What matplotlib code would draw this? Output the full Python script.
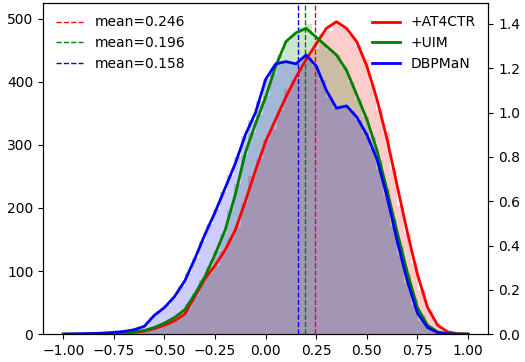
import numpy as np
import matplotlib
matplotlib.use("Agg")
import matplotlib.pyplot as plt

# histogram bins (width 0.035) and counts per model
bin_edges = np.round(np.arange(-0.68, 0.94, 0.035), 4)

counts_at4ctr = [2, 4, 5, 8, 12, 16, 21, 28, 41, 61, 86, 97, 108, 130, 151, 170,
                 208, 250, 277, 307, 325, 356, 388, 403, 422, 442, 452, 476, 480, 497,
                 485, 474, 457, 436, 397, 356, 320, 260, 203, 158, 112, 70, 38, 18, 8, 3]
counts_uim = [3, 5, 6, 10, 14, 20, 26, 34, 47, 65, 84, 107, 132, 159, 197, 238,
              284, 318, 348, 378, 412, 442, 465, 475, 487, 492, 471, 461, 451, 442,
              424, 400, 373, 346, 313, 276, 232, 183, 140, 95, 56, 30, 13, 5, 2, 0]
counts_dbpman = [6, 9, 15, 27, 36, 46, 59, 76, 97, 121, 148, 174, 199, 226, 253, 281,
                 314, 339, 369, 405, 422, 430, 431, 429, 436, 438, 425, 403, 376, 358,
                 361, 353, 340, 320, 295, 262, 221, 172, 125, 81, 46, 21, 9, 3, 1, 0]

# density curves, read at x = -1.00, -0.95, ..., 1.00
kde_x = np.round(np.arange(-1.0, 1.001, 0.05), 2)
kde_at4ctr = [0, 0, 0, 0.001, 0.002, 0.003, 0.005, 0.008, 0.013, 0.025, 0.04, 0.06, 0.09,
              0.17, 0.25, 0.31, 0.38, 0.47, 0.60, 0.74, 0.87, 0.97, 1.07, 1.16, 1.24, 1.31,
              1.38, 1.41, 1.38, 1.32, 1.21, 1.06, 0.88, 0.67, 0.46, 0.27, 0.12, 0.04, 0.01,
              0.002, 0]
kde_uim = [0, 0, 0, 0.001, 0.002, 0.004, 0.006, 0.01, 0.016, 0.03, 0.05, 0.075, 0.11,
           0.18, 0.26, 0.36, 0.47, 0.63, 0.82, 0.95, 1.07, 1.21, 1.32, 1.36, 1.38, 1.34,
           1.30, 1.26, 1.19, 1.08, 0.97, 0.83, 0.65, 0.46, 0.28, 0.12, 0.04, 0.01, 0.002,
           0, 0]
kde_dbpman = [0, 0.001, 0.002, 0.003, 0.005, 0.008, 0.012, 0.02, 0.035, 0.085, 0.12, 0.17,
              0.24, 0.34, 0.45, 0.55, 0.66, 0.77, 0.90, 1.00, 1.15, 1.22, 1.23, 1.22, 1.26,
              1.21, 1.10, 1.02, 1.03, 0.98, 0.90, 0.79, 0.62, 0.42, 0.24, 0.095, 0.03, 0.007,
              0.001, 0, 0]

names = ["+AT4CTR", "+UIM", "DBPMaN"]
means = [0.246, 0.196, 0.158]
colors = ["red", "green", "blue"]

fig = plt.figure(figsize=(5.25, 3.62), dpi=100)
ax1 = fig.add_axes([0.082, 0.077, 0.848, 0.915])
ax2 = ax1.twinx()

centers = (bin_edges[:-1] + bin_edges[1:]) / 2
for cnt, c in zip([counts_at4ctr, counts_uim, counts_dbpman], colors):
    ax1.hist(centers, bins=bin_edges, weights=cnt, color=c, alpha=0.2)

for m, c in zip(means, colors):
    ax1.axvline(m, color=c, linestyle="--", linewidth=1, label="mean=%.3f" % m)

for k, c, n in zip([kde_at4ctr, kde_uim, kde_dbpman], colors, names):
    ax2.plot(kde_x, k, color=c, linewidth=2, label=n)

ax1.set_xlim(-1.1, 1.1)
ax1.set_ylim(0, 525)
ax2.set_ylim(0, 1.495)
ax1.legend(loc="upper left", frameon=False)
ax2.legend(loc="upper right", frameon=False)

fig.savefig("out.png", dpi=100)
